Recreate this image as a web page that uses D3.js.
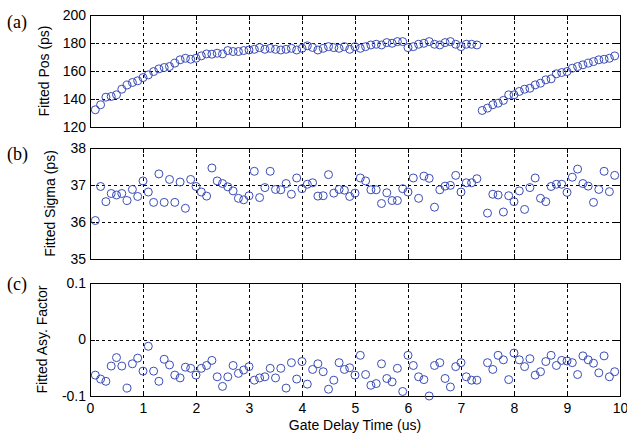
<!DOCTYPE html>
<html>
<head>
<meta charset="utf-8">
<script src="https://cdn.jsdelivr.net/npm/d3@7"></script>
<style>
body { margin: 0; background: #fff; }
</style>
</head>
<body>
<div id="chart-area"></div>
<script>
// gate delay times, 0.1 us steps
var gateTime = d3.range(1, 100).map(function (k) { return k / 10; });

var fittedPos = [
    132.3, 135.9, 141.3, 141.8, 143.0, 147.0, 150.0, 151.8, 153.0, 155.3,
    157.2, 159.6, 161.5, 162.5, 163.2, 165.6, 168.0, 169.1, 168.4, 169.1,
    170.8, 172.2, 172.0, 172.7, 172.2, 174.6, 173.9, 173.9, 174.6, 175.0,
    175.5, 176.7, 175.5, 176.2, 175.5, 175.0, 175.5, 176.2, 175.0, 176.2,
    178.0, 176.8, 175.0, 176.2, 177.4, 176.7, 176.2, 177.4, 175.5, 177.4,
    176.2, 177.4, 178.6, 179.1, 178.6, 180.3, 179.8, 181.0, 181.0, 176.7,
    177.4, 179.1, 179.8, 181.0, 179.1, 178.6, 180.3, 181.0, 179.1, 177.4,
    179.1, 179.1, 178.6, 131.8, 133.5, 135.9, 137.0, 139.0, 143.0, 143.0,
    145.4, 147.0, 147.7, 150.1, 151.3, 153.7, 154.4, 158.0, 158.9, 159.6,
    162.0, 163.2, 164.4, 165.6, 166.7, 168.0, 168.4, 169.1, 170.8
];

// null = fit fell outside the plotted range
var fittedSigma = [
    36.04, 36.96, 36.55, 36.77, 36.73, 36.77, 36.58, 36.88, 36.69, 37.11,
    36.81, 36.53, 37.30, 36.53, 37.15, 36.53, 37.08, 36.37, 37.15, 36.96,
    36.81, 36.70, 37.46, 37.11, 37.04, 36.95, 36.84, 36.64, 36.60, 36.71,
    37.37, 36.66, 36.93, 37.37, 36.88, 36.87, 37.04, 36.75, 37.19, 36.90,
    37.02, 37.06, 36.70, 36.71, 37.28, 36.78, 36.88, 36.86, 36.69, 36.78,
    37.19, 37.11, 36.87, 36.87, 36.50, 36.79, 36.58, 36.58, 36.90, 36.81,
    37.19, 36.64, 37.24, 37.18, 36.40, 36.87, 36.97, 36.99, 37.26, 36.81,
    37.06, 37.06, 37.17, null, 36.24, 36.75, 36.73, 36.27, 36.71, 36.55,
    36.84, 36.34, 36.93, 37.19, 36.64, 36.55, 36.96, 37.02, 37.02, 36.80,
    37.21, 37.43, 37.04, 36.97, 36.53, 36.88, 37.37, 36.82, 37.26
];

var fittedAsy = [
    -0.063, -0.070, -0.074, -0.047, -0.032, -0.047, -0.086, -0.043, -0.033, -0.056,
    -0.012, -0.056, -0.074, -0.035, -0.045, -0.063, -0.068, -0.049, -0.051, -0.063,
    -0.051, -0.046, -0.037, -0.066, -0.083, -0.066, -0.046, -0.060, -0.054, -0.048,
    -0.072, -0.068, -0.066, -0.051, -0.068, -0.051, -0.086, -0.041, -0.070, -0.039,
    -0.079, -0.053, -0.043, -0.057, -0.088, -0.072, -0.041, -0.053, -0.050, -0.063,
    -0.028, -0.062, -0.081, -0.078, -0.043, -0.069, -0.075, -0.051, -0.092, -0.028,
    -0.046, -0.066, -0.071, -0.100, -0.046, -0.041, -0.069, -0.084, -0.048, -0.041,
    -0.066, -0.072, -0.072, null, -0.041, -0.053, -0.028, -0.036, -0.071, -0.024,
    -0.036, -0.048, -0.034, -0.063, -0.057, -0.039, -0.028, -0.046, -0.037, -0.038,
    -0.041, -0.062, -0.029, -0.036, -0.042, -0.059, -0.029, -0.066, -0.057
];

var xTicks = [0, 1, 2, 3, 4, 5, 6, 7, 8, 9, 10];
var posTicks = [120, 140, 160, 180, 200];
var sigmaTicks = [35, 36, 37, 38];
var asyTicks = [-0.1, 0, 0.1];

var panels = [
    { tag: "(a)", tagY: 27.5, vals: fittedPos, ticks: posTicks, domain: [120, 200],
      top: 15, bottom: 127, label: "Fitted Pos (ps)", labelX: 49 },
    { tag: "(b)", tagY: 160, vals: fittedSigma, ticks: sigmaTicks, domain: [35, 38],
      top: 148, bottom: 259, label: "Fitted Sigma (ps)", labelX: 55 },
    { tag: "(c)", tagY: 289.5, vals: fittedAsy, ticks: asyTicks, domain: [-0.1, 0.1],
      top: 283, bottom: 396, label: "Fitted Asy. Factor", labelX: 47 }
];

var W = 627, H = 437;
var left = 90, right = 620;
var blue = "#3a4cb6";
var sans = "'Liberation Sans', Arial, sans-serif";
var serif = "'Liberation Serif', 'Times New Roman', serif";
var fs = "14px";

var svg = d3.select("#chart-area")
    .append("svg")
    .attr("width", W)
    .attr("height", H);

var x = d3.scaleLinear().domain([0, 10]).range([left, right]);

panels.forEach(function (p, i) {
    var y = d3.scaleLinear().domain(p.domain).range([p.bottom, p.top]);
    var g = svg.append("g");

    // grid
    g.selectAll(".gx")
        .data(xTicks.slice(1, -1))
        .enter().append("line")
        .attr("x1", d => Math.round(x(d)) + 0.5).attr("x2", d => Math.round(x(d)) + 0.5)
        .attr("y1", p.top).attr("y2", p.bottom)
        .attr("stroke", "#000").attr("stroke-dasharray", "3,3");
    g.selectAll(".gy")
        .data(p.ticks.slice(1, -1))
        .enter().append("line")
        .attr("y1", d => Math.round(y(d)) + 0.5).attr("y2", d => Math.round(y(d)) + 0.5)
        .attr("x1", left).attr("x2", right)
        .attr("stroke", "#000").attr("stroke-dasharray", "3,3");

    // inward ticks
    p.ticks.forEach(function (t) {
        var yy = Math.round(y(t)) + 0.5;
        g.append("line").attr("x1", left).attr("x2", left + 5).attr("y1", yy).attr("y2", yy).attr("stroke", "#000");
        g.append("line").attr("x1", right - 5).attr("x2", right).attr("y1", yy).attr("y2", yy).attr("stroke", "#000");
    });
    xTicks.forEach(function (t) {
        var xx = Math.round(x(t)) + 0.5;
        g.append("line").attr("x1", xx).attr("x2", xx).attr("y1", p.bottom - 5).attr("y2", p.bottom).attr("stroke", "#000");
        g.append("line").attr("x1", xx).attr("x2", xx).attr("y1", p.top).attr("y2", p.top + 5).attr("stroke", "#000");
    });

    // box
    g.append("rect")
        .attr("x", left + 0.5).attr("y", p.top + 0.5)
        .attr("width", right - left).attr("height", p.bottom - p.top)
        .attr("fill", "none").attr("stroke", "#000");

    // y axis labels
    var yAxis = d3.axisLeft(y).tickValues(p.ticks).tickSize(0).tickPadding(4)
        .tickFormat(d => String(d));
    var ya = g.append("g").attr("transform", "translate(" + left + ",0)").call(yAxis);
    ya.select(".domain").remove();
    ya.selectAll("text").style("font-size", fs).style("font-family", sans).attr("fill", "#000");

    if (i == panels.length - 1) {
        var xAxis = d3.axisBottom(x).tickValues(xTicks).tickSize(0).tickPadding(7)
            .tickFormat(d => String(d));
        var xa = g.append("g").attr("transform", "translate(0," + p.bottom + ")").call(xAxis);
        xa.select(".domain").remove();
        xa.selectAll("text").style("font-size", fs).style("font-family", sans).attr("fill", "#000");

        g.append("text")
            .attr("x", (left + right) / 2)
            .attr("y", 430)
            .attr("text-anchor", "middle")
            .style("font-size", fs)
            .style("font-family", sans)
            .text("Gate Delay Time (us)");
    }

    // y title
    g.append("text")
        .attr("transform", "translate(" + p.labelX + "," + ((p.top + p.bottom) / 2) + ") rotate(-90)")
        .attr("text-anchor", "middle")
        .style("font-size", fs)
        .style("font-family", sans)
        .text(p.label);

    // panel tag
    g.append("text")
        .attr("x", 7)
        .attr("y", p.tagY)
        .style("font-family", serif)
        .style("font-size", "18px")
        .text(p.tag);

    // data
    var pts = gateTime.map((t, k) => ({ t: t, v: p.vals[k] })).filter(d => d.v != null);
    g.selectAll("circle")
        .data(pts)
        .enter().append("circle")
        .attr("cx", d => x(d.t))
        .attr("cy", d => y(d.v))
        .attr("r", 4)
        .attr("fill", "none")
        .attr("stroke", blue)
        .attr("stroke-width", 1);
});
</script>
</body>
</html>
